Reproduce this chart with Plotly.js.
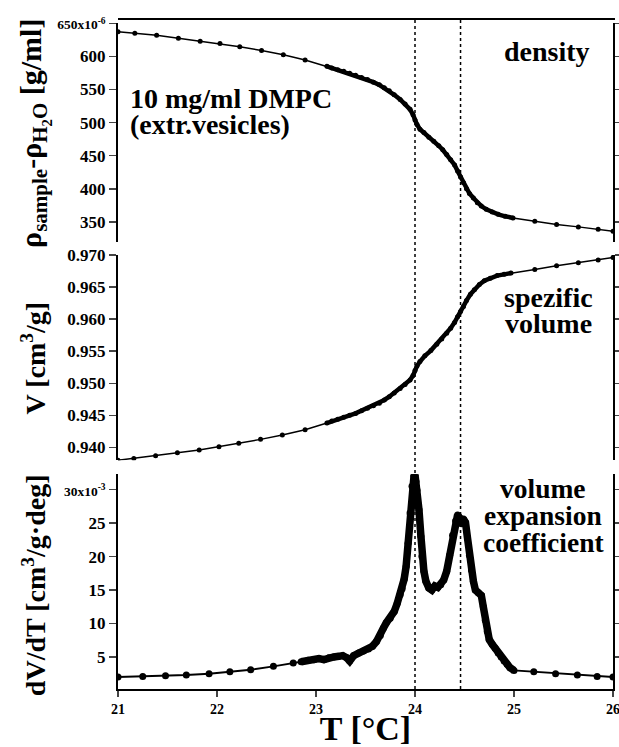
<!DOCTYPE html>
<html>
<head>
<meta charset="utf-8">
<script src="https://cdn.plot.ly/plotly-3.0.1.min.js"></script>
<style>html,body{margin:0;padding:0;background:#fff;}</style>
</head>
<body>
<div id="chart" style="width:619px;height:747px;"></div>
<script>
// ---- density (rho_sample - rho_H2O), units 1e-6 g/ml ----
const tempDensity = [21.0,21.17,21.39,21.61,21.83,22.03,22.23,22.45,22.67,22.89,
  23.11,23.16,23.22,23.28,23.34,23.40,23.46,23.52,23.58,23.64,23.69,23.74,23.79,23.85,23.90,23.95,23.98,
  24.00,24.02,24.05,24.09,24.14,24.19,24.24,24.28,24.32,24.36,24.40,24.43,24.46,24.49,24.52,24.55,24.59,
  24.63,24.67,24.72,24.78,24.84,24.91,24.99,25.21,25.43,25.65,25.85,26.0];
const density = [637.4,635,632,627.5,623,619.5,614.5,609,602.5,594.5,
  585,582.5,580,577.5,574.5,571.5,568,565,561,557,552.5,548,542,535,528,520,512,
  504,497,490,485,478,472,465,459,452,444,436,427,418,409,400,393,386,
  379,374,369,365,361.5,358.5,356,351,346,342.5,339,336];

// ---- specific volume V, cm^3/g ----
const tempVolume = [21.0,21.16,21.38,21.60,21.82,22.02,22.22,22.44,22.66,22.89,
  23.11,23.16,23.22,23.28,23.34,23.40,23.46,23.52,23.58,23.64,23.69,23.74,23.79,23.85,23.90,23.95,23.98,
  24.00,24.02,24.05,24.10,24.16,24.22,24.27,24.32,24.36,24.40,24.43,24.46,24.49,24.52,24.56,24.60,
  24.65,24.70,24.76,24.83,24.90,24.97,25.21,25.43,25.65,25.85,26.0];
const volume = [0.9380,0.93828,0.93869,0.93916,0.93958,0.9401,0.94063,0.94125,0.94192,0.94275,
  0.9438,0.9441,0.9444,0.9447,0.9450,0.9453,0.9457,0.9461,0.9465,0.9469,0.9474,0.9479,0.9485,0.9492,0.9498,0.9505,0.9512,
  0.9520,0.9527,0.9534,0.9543,0.9551,0.9561,0.9569,0.9578,0.9586,0.9595,0.9604,0.9612,0.9620,0.9629,0.9639,0.9646,
  0.9654,0.9660,0.9664,0.9668,0.9670,0.9672,0.96777,0.96833,0.9688,0.96922,0.96964];

// ---- volume expansion coefficient dV/dT, units 1e-3 cm^3/(g deg) ----
const tempExpansion = [21.0,21.25,21.48,21.69,21.92,22.13,22.34,22.57,22.77,
  22.85,22.92,22.98,23.03,23.08,23.13,23.18,23.23,23.27,23.31,23.34,23.38,23.43,23.48,23.53,23.57,23.61,
  23.65,23.68,23.71,23.75,23.79,23.82,23.85,23.87,23.89,23.91,23.93,23.95,23.97,23.99,24.00,24.01,24.02,
  24.04,24.06,24.07,24.09,24.11,24.14,24.17,24.20,24.23,24.26,24.29,24.32,24.35,24.38,24.41,24.43,24.45,
  24.47,24.49,24.51,24.53,24.55,24.57,24.59,24.61,24.64,24.67,24.69,24.71,24.73,24.75,24.78,24.81,24.84,
  24.87,24.90,24.93,24.96,25.00,25.20,25.42,25.64,25.84,26.0];
const expansion = [2.0,2.1,2.2,2.3,2.5,2.8,3.1,3.6,4.1,
  4.3,4.5,4.6,4.75,4.6,4.9,5.0,5.1,5.2,4.9,4.4,5.2,5.6,5.9,6.2,6.6,7.3,
  8.2,9.3,10.1,10.8,11.8,13.0,14.3,15.2,16.6,18.5,22.0,26.5,30.5,32.0,32.2,31.2,29.9,
  27.0,23.0,20.0,17.8,16.3,15.3,15.0,15.6,15.4,15.8,16.5,17.8,20.2,23.2,25.3,26.2,25.8,
  24.9,25.6,25.1,22.8,20.2,18.0,16.3,15.0,14.6,14.2,12.5,10.5,8.8,7.6,6.9,6.3,5.6,
  5.0,4.4,3.9,3.4,3.0,2.8,2.5,2.3,2.1,2.0];

// ---- ticks and labels ----
const xTicks = [21,22,23,24,25,26];
const densityTicks = [350,400,450,500,550,600,650];
const densityTickText = ['350','400','450','500','550','600','<span style="font-size:13.5px">650x10<sup>-6</sup></span>'];
const volumeTicks = [0.940,0.945,0.950,0.955,0.960,0.965,0.970];
const volumeTickText = ['0.940','0.945','0.950','0.955','0.960','0.965','0.970'];
const expansionTicks = [5,10,15,20,25,30];
const expansionTickText = ['5','10','15','20','25','<span style="font-size:13.5px">30x10<sup>-3</sup></span>'];
const transitionLines = [24.0, 24.46];
// temperature window where the measurement was densely sampled (drawn as a heavy band)
const denseWindowDV = [23.1, 25.0];
const denseWindowExp = [22.8, 25.0];

const FONT = 'Liberation Serif';

function within(xs, ys, w){
  const ox = [], oy = [];
  xs.forEach((v, i) => { if (v >= w[0] && v <= w[1]) { ox.push(v); oy.push(ys[i]); } });
  return {x: ox, y: oy};
}
const dDen = within(tempDensity, density, denseWindowDV);
const dVol = within(tempVolume, volume, denseWindowDV);
const dExp = within(tempExpansion, expansion, denseWindowExp);

const traces = [
  {x: tempDensity, y: density, xaxis:'x', yaxis:'y', mode:'lines+markers',
   line:{color:'black', width:1.5}, marker:{color:'black', size:5}},
  {x: dDen.x, y: dDen.y, xaxis:'x', yaxis:'y', mode:'lines', line:{color:'black', width:4.5}},
  {x: tempVolume, y: volume, xaxis:'x', yaxis:'y2', mode:'lines+markers',
   line:{color:'black', width:1.5}, marker:{color:'black', size:5}},
  {x: dVol.x, y: dVol.y, xaxis:'x', yaxis:'y2', mode:'lines', line:{color:'black', width:4.5}},
  {x: tempExpansion, y: expansion, xaxis:'x', yaxis:'y3', mode:'lines+markers',
   line:{color:'black', width:2}, marker:{color:'black', size:7}},
  {x: dExp.x, y: dExp.y, xaxis:'x', yaxis:'y3', mode:'lines', line:{color:'black', width:7.5}}
];

function yax(domain, range, vals, text){
  return {domain: domain, range: range, anchor:'x', tickvals: vals, ticktext: text,
    ticks:'outside', ticklen:7, tickwidth:1.5, showline:true, linewidth:2, linecolor:'black',
    mirror:'ticks', showgrid:false, zeroline:false,
    tickfont:{family:FONT, size:17, color:'black', weight:'bold'}};
}

const shapes = transitionLines.map(v => ({type:'line', xref:'x', yref:'paper', x0:v, x1:v, y0:0, y1:1,
  line:{color:'black', width:1.5, dash:'dot'}}));
shapes.push({type:'line', xref:'paper', yref:'paper', x0:0, x1:1.004, y0:1, y1:1, line:{color:'black', width:2}});

function ann(text, x, y, xanchor, size, angle){
  return {text: text, xref:'paper', yref:'paper', x:x, y:y, xanchor:xanchor, yanchor:'middle',
    showarrow:false, textangle: angle || 0,
    font:{family:FONT, size:size, color:'black', weight:'bold'}};
}

const annotations = [
  ann('ρ<sub>sample</sub>-ρ<sub>H<sub>2</sub>O</sub> [g/ml]', -0.17, 0.8298, 'center', 30, -90),
  ann('V [cm<sup>3</sup>/g]', -0.17, 0.4945, 'center', 28, -90),
  ann('dV/dT [cm<sup>3</sup>/g·deg]', -0.17, 0.1548, 'center', 28, -90),
  ann('10 mg/ml DMPC', 0.0202, 0.8806, 'left', 28),
  ann('(extr.vesicles)', 0.0202, 0.8425, 'left', 28),
  ann('density', 0.9576, 0.9522, 'right', 28),
  ann('spezific', 0.8707, 0.5849, 'center', 28),
  ann('volume', 0.8707, 0.5460, 'center', 28),
  ann('volume', 0.8586, 0.2997, 'center', 27.5),
  ann('expansion', 0.8586, 0.2594, 'center', 27.5),
  ann('coefficient', 0.8586, 0.2191, 'center', 27.5)
];

const layout = {
  width:619, height:747, margin:{l:118, r:6, t:19, b:58},
  paper_bgcolor:'white', plot_bgcolor:'white', showlegend:false,
  font:{family:FONT, color:'black'},
  xaxis:{range:[21,26], anchor:'y3', tickvals:xTicks, ticks:'outside', ticklen:6, tickwidth:1.5,
    showline:true, linewidth:2, linecolor:'black', showgrid:false, zeroline:false,
    ticklabeloverflow:'allow',
    tickfont:{family:FONT, size:14, color:'black', weight:'bold'},
    title:{text:'T [°C]', font:{family:FONT, size:34, color:'black', weight:'bold'}, standoff:0}},
  yaxis: yax([0.6675,0.9936],[320,650], densityTicks, densityTickText),
  yaxis2: yax([0.3415,0.6476],[0.938,0.970], volumeTicks, volumeTickText),
  yaxis3: yax([0,0.3206],[0.22,32.3], expansionTicks, expansionTickText),
  shapes: shapes,
  annotations: annotations
};

Plotly.newPlot('chart', traces, layout, {displayModeBar:false, staticPlot:true});
</script>
</body>
</html>
